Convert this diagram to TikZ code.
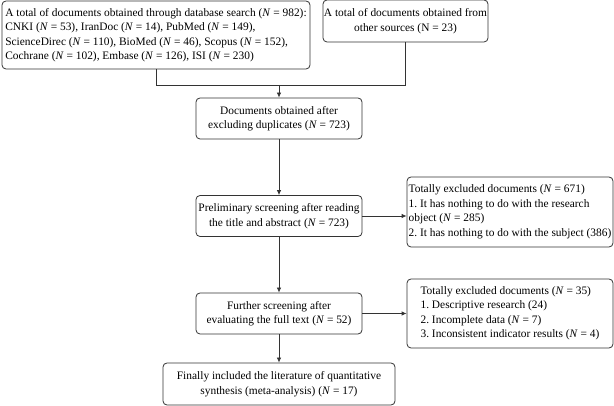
\documentclass[tikz,border=0pt]{standalone}
\usepackage{fontspec}
\setmainfont{Liberation Serif}
\usetikzlibrary{arrows.meta, positioning}
\newcommand{\nN}{\textit{N}}
\frenchspacing

\begin{document}
\begin{tikzpicture}[x=1pt, y=-1pt,
            box/.style={rectangle, rounded corners=4pt, draw=black!80, line width=0.8pt, inner sep=0pt, font=\fontsize{11.4}{14.5}\selectfont},
            midbox/.style={box, minimum width=166pt, minimum height=41pt, align=center},
            srcbox/.style={box, minimum width=308pt, minimum height=68pt, align=left},
            notebox/.style={box, minimum width=206pt, minimum height=70pt, align=left},
            line/.style={line width=0.8pt, draw=black!80},
            arrow/.style={line, -{Latex[length=5pt, width=4.5pt]}}
        ]
\useasboundingbox (0,0) rectangle (614,406);

% Sources
            \node[srcbox] (dbsearch) at (156,35) {A total of documents obtained through database search (\nN{} = 982):\\
                CNKI (\nN{} = 53), IranDoc (\nN{} = 14), PubMed (\nN{} = 149),\\
                ScienceDirec (\nN{} = 110), BioMed (\nN{} = 46), Scopus (\nN{} = 152),\\
                Cochrane (\nN{} = 102), Embase (\nN{} = 126), ISI (\nN{} = 230)};
            \node[box, minimum width=165pt, minimum height=42pt, align=center] (othersrc) at (405.5,21) {A total of documents obtained from\\other sources (N = 23)};
            \coordinate (merge) at (279,85);

% Screening steps
            \node[midbox] (dedup) at (279,118.5) {Documents obtained after\\excluding duplicates (\nN{} = 723)};
            \node[midbox] (prelim) at (279,216) {Preliminary screening after reading\\the title and abstract (\nN{} = 723)};
            \node[midbox] (further) at (279,313.5) {Further screening after\\evaluating the full text (\nN{} = 52)};
            \node[box, minimum width=232pt, minimum height=42pt, align=center] (final) at (279,384) {Finally included the literature of quantitative\\synthesis (meta-analysis) (\nN{} = 17)};

% Exclusions
            \node[notebox] (excl1) at (510,212) {Totally excluded documents (\nN{} = 671)\\
                1. It has nothing to do with the research\\
                object (\nN{} = 285)\\
                2. It has nothing to do with the subject (386)};
            \node[notebox, minimum height=69pt] (excl2) at (510,313.5) {Totally excluded documents (\nN{} = 35)\\
                1. Descriptive research (24)\\
                2. Incomplete data (\nN{} = 7)\\
                3. Inconsistent indicator results (\nN{} = 4)};

% Connections
            \draw[line] (dbsearch.south) |- (merge);
            \draw[line] (othersrc.south) |- (merge);
            \draw[arrow] (merge) -- (dedup);
            \draw[arrow] (dedup) -- (prelim);
            \draw[arrow] (prelim) -- (further);
            \draw[arrow] (further) -- (final);
            \draw[arrow] (prelim.east) -- (prelim.east -| excl1.west);
            \draw[arrow] (further.east) -- (further.east -| excl2.west);

        \end{tikzpicture}
\end{document}
